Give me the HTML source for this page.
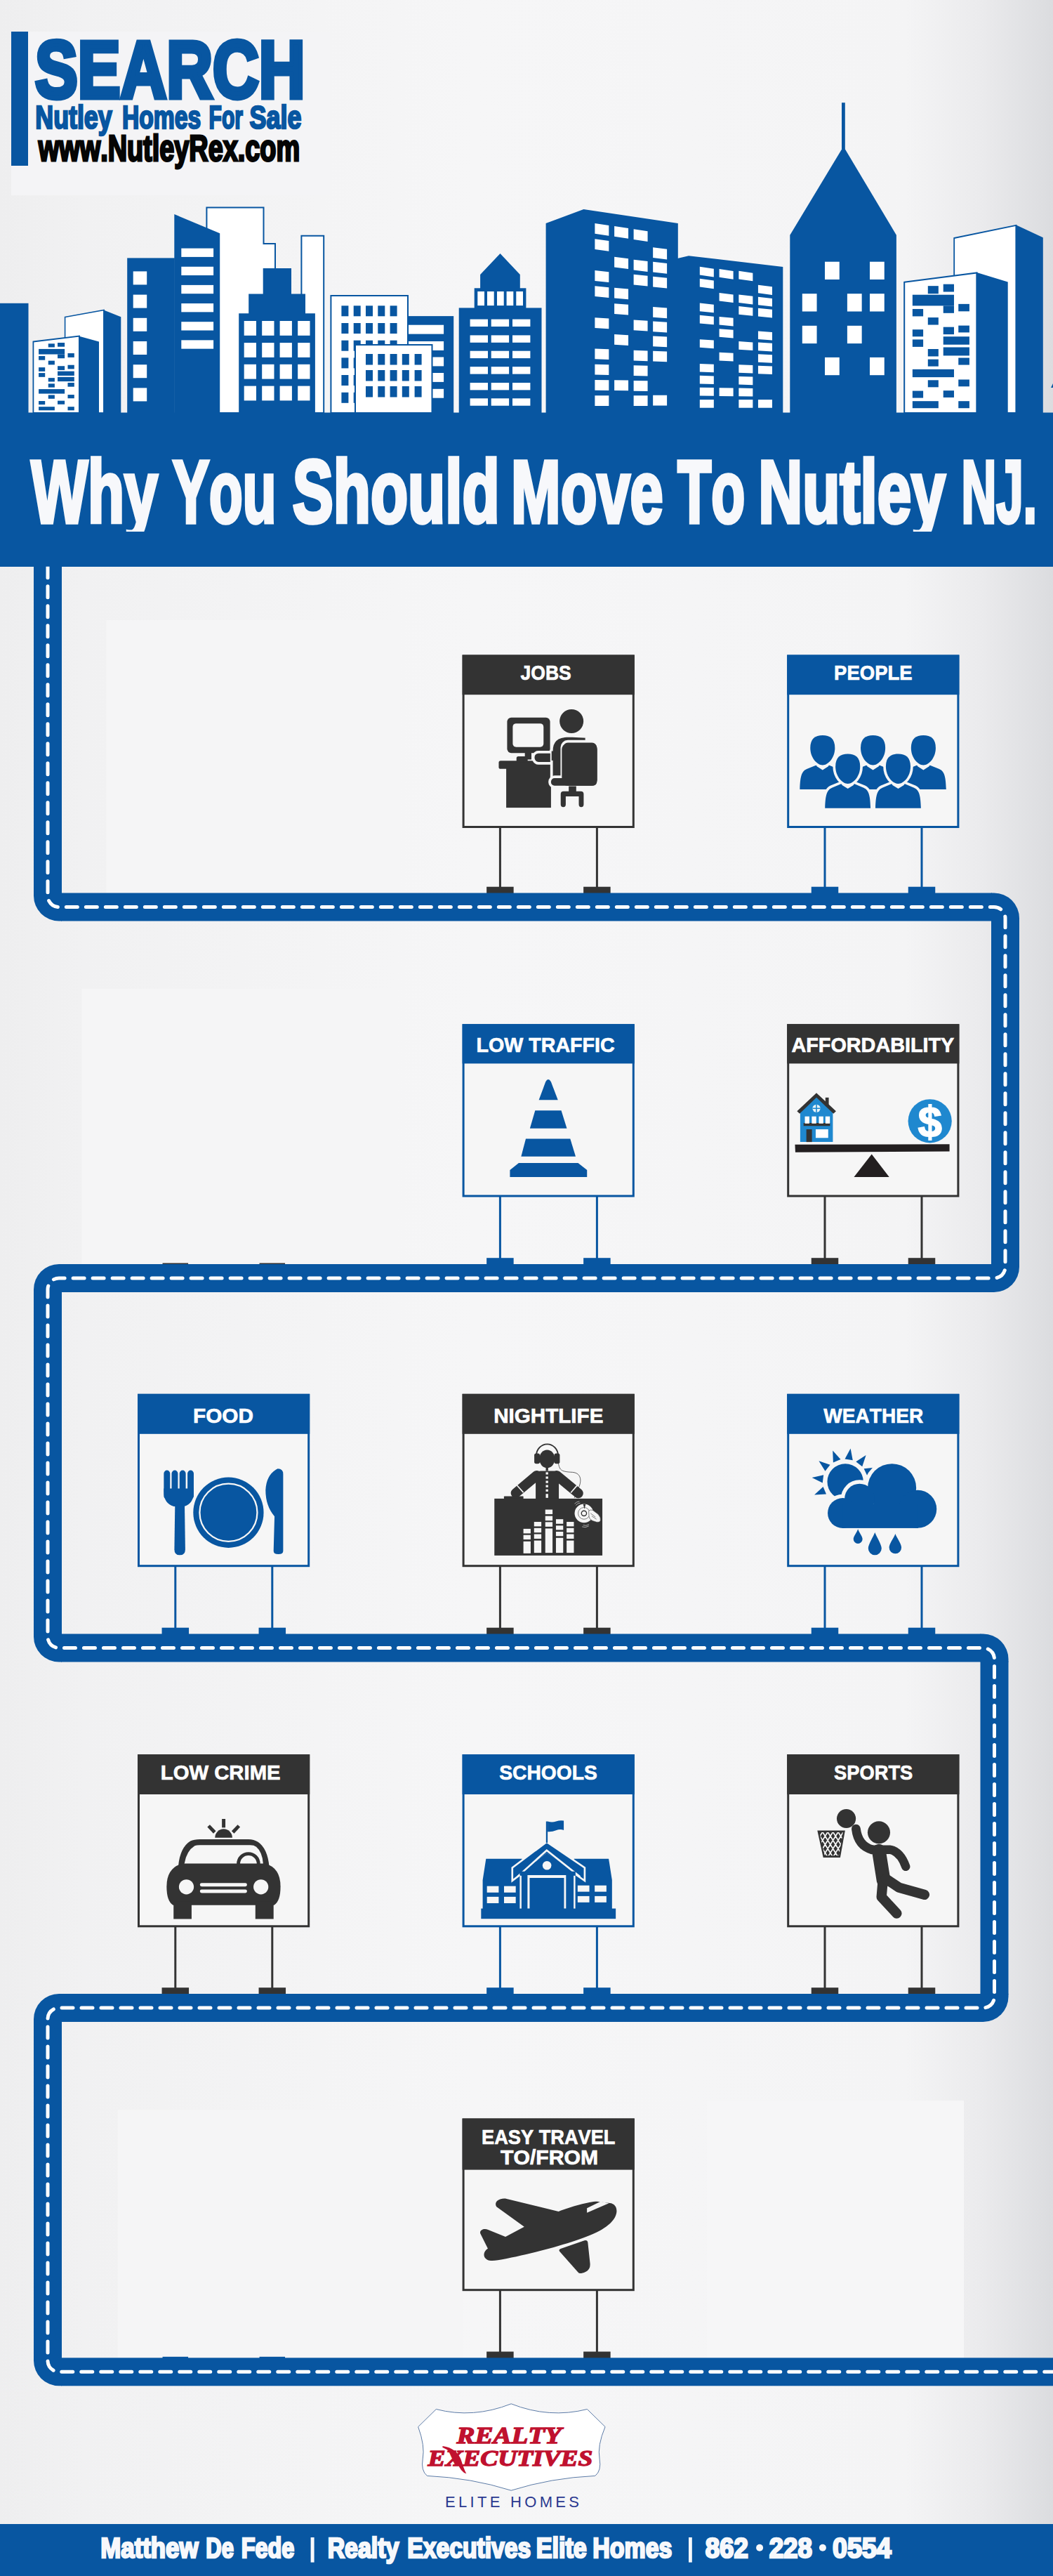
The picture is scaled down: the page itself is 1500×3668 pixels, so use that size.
<!DOCTYPE html><html><head><meta charset="utf-8"><style>html,body{margin:0;padding:0;background:#f4f4f5;overflow:hidden;}svg{display:block}</style></head><body><svg width="1500" height="3668" viewBox="0 0 1500 3668"><defs>
<linearGradient id="bg" x1="0" y1="0" x2="1" y2="0">
<stop offset="0" stop-color="#eeeeef"/>
<stop offset="0.08" stop-color="#f1f1f2"/>
<stop offset="0.45" stop-color="#f6f6f7"/>
<stop offset="0.86" stop-color="#f4f4f5"/>
<stop offset="0.93" stop-color="#ebebed"/>
<stop offset="1" stop-color="#dbdcdf"/>
</linearGradient>
</defs>
<rect x="0.00" y="0.00" width="1500.00" height="3668.00" fill="url(#bg)" />
<rect x="16.00" y="45.00" width="454.00" height="233.20" fill="#f4f4f6" />
<rect x="151.50" y="883.00" width="417.50" height="389.00" fill="#f5f5f6" />
<rect x="116.50" y="1408.00" width="447.00" height="392.00" fill="#f5f5f6" />
<rect x="167.70" y="3004.40" width="491.30" height="353.60" fill="#f5f5f6" />
<rect x="1007.00" y="2991.00" width="366.00" height="367.00" fill="#f6f6f7" />
<rect x="16.00" y="45.00" width="24.00" height="191.00" fill="#0856a1" />
<text x="49.98" y="138.50" font-family="Liberation Sans" font-weight="bold" font-style="normal" font-size="115.41" fill="#0856a1" textLength="384.46" lengthAdjust="spacingAndGlyphs" style="font-kerning:none" stroke="#0856a1" stroke-width="7" stroke-linejoin="miter" >SEARCH</text>
<text x="50.31" y="182.50" font-family="Liberation Sans" font-weight="bold" font-style="normal" font-size="46.95" fill="#0856a1" textLength="109.39" lengthAdjust="spacingAndGlyphs" style="font-kerning:none" stroke="#0856a1" stroke-width="2.6" stroke-linejoin="miter" >Nutley</text>
<text x="173.95" y="182.50" font-family="Liberation Sans" font-weight="bold" font-style="normal" font-size="46.95" fill="#0856a1" textLength="112.34" lengthAdjust="spacingAndGlyphs" style="font-kerning:none" stroke="#0856a1" stroke-width="2.6" stroke-linejoin="miter" >Homes</text>
<text x="297.59" y="182.50" font-family="Liberation Sans" font-weight="bold" font-style="normal" font-size="46.95" fill="#0856a1" textLength="48.47" lengthAdjust="spacingAndGlyphs" style="font-kerning:none" stroke="#0856a1" stroke-width="2.6" stroke-linejoin="miter" >For</text>
<text x="355.57" y="182.50" font-family="Liberation Sans" font-weight="bold" font-style="normal" font-size="46.95" fill="#0856a1" textLength="73.76" lengthAdjust="spacingAndGlyphs" style="font-kerning:none" stroke="#0856a1" stroke-width="2.6" stroke-linejoin="miter" >Sale</text>
<text x="54.81" y="228.80" font-family="Liberation Sans" font-weight="bold" font-style="normal" font-size="51.45" fill="#050505" textLength="372.34" lengthAdjust="spacingAndGlyphs" style="font-kerning:none" stroke="#050505" stroke-width="3" stroke-linejoin="miter" >www.NutleyRex.com</text>
<rect x="0.00" y="431.80" width="40.50" height="156.20" fill="#0856a1" />
<polygon points="92.60,451.50 148.10,441.50 148.10,588.00 92.60,588.00" fill="#ffffff" stroke="#0856a1" stroke-width="1.6" stroke-linejoin="miter"/>
<polygon points="147.20,441.30 172.30,451.30 172.30,588.00 147.20,588.00" fill="#0856a1" />
<polygon points="47.40,486.50 113.00,478.60 113.00,588.00 47.40,588.00" fill="#ffffff" stroke="#0856a1" stroke-width="1.8" stroke-linejoin="miter"/>
<polygon points="112.00,478.50 141.00,486.50 141.00,588.00 112.00,588.00" fill="#0856a1" />
<g transform="translate(0,420) scale(0.189934)" ><rect x="362.00" y="365.00" width="48.00" height="27.00" fill="#0856a1" /><rect x="432.00" y="358.00" width="53.00" height="30.00" fill="#0856a1" /><rect x="290.00" y="405.00" width="195.00" height="40.00" fill="#0856a1" /><rect x="290.00" y="458.00" width="48.00" height="30.00" fill="#0856a1" /><rect x="432.00" y="445.00" width="53.00" height="30.00" fill="#0856a1" /><rect x="508.00" y="437.00" width="49.00" height="31.00" fill="#0856a1" /><rect x="362.00" y="493.00" width="48.00" height="30.00" fill="#0856a1" /><rect x="290.00" y="543.00" width="48.00" height="30.00" fill="#0856a1" /><rect x="432.00" y="533.00" width="53.00" height="30.00" fill="#0856a1" /><rect x="508.00" y="525.00" width="49.00" height="30.00" fill="#0856a1" /><rect x="290.00" y="585.00" width="48.00" height="30.00" fill="#0856a1" /><rect x="432.00" y="572.00" width="125.00" height="33.00" fill="#0856a1" /><rect x="362.00" y="622.00" width="48.00" height="28.00" fill="#0856a1" /><rect x="432.00" y="615.00" width="125.00" height="33.00" fill="#0856a1" /><rect x="362.00" y="665.00" width="48.00" height="28.00" fill="#0856a1" /><rect x="508.00" y="658.00" width="49.00" height="30.00" fill="#0856a1" /><rect x="290.00" y="706.00" width="195.00" height="34.00" fill="#0856a1" /><rect x="362.00" y="750.00" width="48.00" height="28.00" fill="#0856a1" /><rect x="508.00" y="748.00" width="49.00" height="27.00" fill="#0856a1" /><rect x="290.00" y="795.00" width="48.00" height="27.00" fill="#0856a1" /><rect x="432.00" y="793.00" width="53.00" height="27.00" fill="#0856a1" /><rect x="290.00" y="838.00" width="120.00" height="27.00" fill="#0856a1" /><rect x="508.00" y="838.00" width="49.00" height="27.00" fill="#0856a1" /></g>
<rect x="181.20" y="367.40" width="67.60" height="220.60" fill="#0856a1" />
<rect x="189.70" y="386.40" width="19.50" height="19.00" fill="#ffffff" />
<rect x="189.70" y="419.60" width="19.50" height="19.00" fill="#ffffff" />
<rect x="189.70" y="452.80" width="19.50" height="19.00" fill="#ffffff" />
<rect x="189.70" y="486.00" width="19.50" height="19.00" fill="#ffffff" />
<rect x="189.70" y="519.20" width="19.50" height="19.00" fill="#ffffff" />
<rect x="189.70" y="552.40" width="19.50" height="19.00" fill="#ffffff" />
<polygon points="294.40,295.50 375.50,295.50 375.50,347.00 392.00,347.00 392.00,588.00 294.40,588.00" fill="#ffffff" stroke="#0856a1" stroke-width="2" stroke-linejoin="miter"/>
<polygon points="248.30,305.00 313.20,332.20 313.20,588.00 248.30,588.00" fill="#0856a1" />
<rect x="258.30" y="353.60" width="45.80" height="12.30" fill="#ffffff" />
<rect x="258.30" y="379.75" width="45.80" height="12.30" fill="#ffffff" />
<rect x="258.30" y="405.90" width="45.80" height="12.30" fill="#ffffff" />
<rect x="258.30" y="432.05" width="45.80" height="12.30" fill="#ffffff" />
<rect x="258.30" y="458.20" width="45.80" height="12.30" fill="#ffffff" />
<rect x="258.30" y="484.35" width="45.80" height="12.30" fill="#ffffff" />
<polygon points="429.40,335.80 461.20,335.80 461.20,588.00 429.40,588.00" fill="#ffffff" stroke="#0856a1" stroke-width="2" stroke-linejoin="miter"/>
<polygon points="374.70,382.10 415.00,382.10 415.00,418.40 435.00,418.40 435.00,446.20 448.90,446.20 448.90,588.00 340.20,588.00 340.20,446.20 354.20,446.20 354.20,418.40 374.70,418.40" fill="#0856a1" />
<rect x="347.70" y="457.00" width="17.30" height="20.80" fill="#ffffff" />
<rect x="373.20" y="457.00" width="17.30" height="20.80" fill="#ffffff" />
<rect x="398.60" y="457.00" width="17.30" height="20.80" fill="#ffffff" />
<rect x="424.20" y="457.00" width="17.30" height="20.80" fill="#ffffff" />
<rect x="347.70" y="488.10" width="17.30" height="20.80" fill="#ffffff" />
<rect x="373.20" y="488.10" width="17.30" height="20.80" fill="#ffffff" />
<rect x="398.60" y="488.10" width="17.30" height="20.80" fill="#ffffff" />
<rect x="424.20" y="488.10" width="17.30" height="20.80" fill="#ffffff" />
<rect x="347.70" y="518.80" width="17.30" height="20.80" fill="#ffffff" />
<rect x="373.20" y="518.80" width="17.30" height="20.80" fill="#ffffff" />
<rect x="398.60" y="518.80" width="17.30" height="20.80" fill="#ffffff" />
<rect x="424.20" y="518.80" width="17.30" height="20.80" fill="#ffffff" />
<rect x="347.70" y="549.60" width="17.30" height="20.80" fill="#ffffff" />
<rect x="373.20" y="549.60" width="17.30" height="20.80" fill="#ffffff" />
<rect x="398.60" y="549.60" width="17.30" height="20.80" fill="#ffffff" />
<rect x="424.20" y="549.60" width="17.30" height="20.80" fill="#ffffff" />
<rect x="582.00" y="450.10" width="64.20" height="137.90" fill="#0856a1" />
<rect x="582.00" y="462.70" width="50.10" height="12.90" fill="#ffffff" />
<rect x="582.00" y="486.00" width="50.10" height="12.90" fill="#ffffff" />
<rect x="582.00" y="508.50" width="50.10" height="12.90" fill="#ffffff" />
<rect x="582.00" y="531.00" width="50.10" height="12.90" fill="#ffffff" />
<rect x="582.00" y="553.80" width="50.10" height="12.90" fill="#ffffff" />
<polygon points="471.40,421.00 581.00,421.00 581.00,588.00 471.40,588.00" fill="#ffffff" stroke="#0856a1" stroke-width="2" stroke-linejoin="miter"/>
<rect x="486.40" y="435.30" width="10.00" height="15.00" fill="#0856a1" />
<rect x="503.70" y="435.30" width="10.00" height="15.00" fill="#0856a1" />
<rect x="521.00" y="435.30" width="10.00" height="15.00" fill="#0856a1" />
<rect x="538.30" y="435.30" width="10.00" height="15.00" fill="#0856a1" />
<rect x="555.60" y="435.30" width="10.00" height="15.00" fill="#0856a1" />
<rect x="486.40" y="460.00" width="10.00" height="15.00" fill="#0856a1" />
<rect x="503.70" y="460.00" width="10.00" height="15.00" fill="#0856a1" />
<rect x="521.00" y="460.00" width="10.00" height="15.00" fill="#0856a1" />
<rect x="538.30" y="460.00" width="10.00" height="15.00" fill="#0856a1" />
<rect x="555.60" y="460.00" width="10.00" height="15.00" fill="#0856a1" />
<rect x="486.40" y="484.70" width="10.00" height="15.00" fill="#0856a1" />
<rect x="503.70" y="484.70" width="10.00" height="15.00" fill="#0856a1" />
<rect x="521.00" y="484.70" width="10.00" height="15.00" fill="#0856a1" />
<rect x="538.30" y="484.70" width="10.00" height="15.00" fill="#0856a1" />
<rect x="555.60" y="484.70" width="10.00" height="15.00" fill="#0856a1" />
<rect x="486.40" y="509.40" width="10.00" height="15.00" fill="#0856a1" />
<rect x="503.70" y="509.40" width="10.00" height="15.00" fill="#0856a1" />
<rect x="521.00" y="509.40" width="10.00" height="15.00" fill="#0856a1" />
<rect x="538.30" y="509.40" width="10.00" height="15.00" fill="#0856a1" />
<rect x="555.60" y="509.40" width="10.00" height="15.00" fill="#0856a1" />
<rect x="486.40" y="534.00" width="10.00" height="15.00" fill="#0856a1" />
<rect x="503.70" y="534.00" width="10.00" height="15.00" fill="#0856a1" />
<rect x="521.00" y="534.00" width="10.00" height="15.00" fill="#0856a1" />
<rect x="538.30" y="534.00" width="10.00" height="15.00" fill="#0856a1" />
<rect x="555.60" y="534.00" width="10.00" height="15.00" fill="#0856a1" />
<rect x="486.40" y="558.80" width="10.00" height="15.00" fill="#0856a1" />
<rect x="503.70" y="558.80" width="10.00" height="15.00" fill="#0856a1" />
<rect x="521.00" y="558.80" width="10.00" height="15.00" fill="#0856a1" />
<rect x="538.30" y="558.80" width="10.00" height="15.00" fill="#0856a1" />
<rect x="555.60" y="558.80" width="10.00" height="15.00" fill="#0856a1" />
<polygon points="506.00,490.90 615.50,490.90 615.50,588.00 506.00,588.00" fill="#ffffff" stroke="#0856a1" stroke-width="2" stroke-linejoin="miter"/>
<rect x="521.00" y="504.00" width="10.00" height="15.50" fill="#0856a1" />
<rect x="538.30" y="504.00" width="10.00" height="15.50" fill="#0856a1" />
<rect x="555.60" y="504.00" width="10.00" height="15.50" fill="#0856a1" />
<rect x="572.80" y="504.00" width="10.00" height="15.50" fill="#0856a1" />
<rect x="590.60" y="504.00" width="10.00" height="15.50" fill="#0856a1" />
<rect x="521.00" y="527.00" width="10.00" height="15.50" fill="#0856a1" />
<rect x="538.30" y="527.00" width="10.00" height="15.50" fill="#0856a1" />
<rect x="555.60" y="527.00" width="10.00" height="15.50" fill="#0856a1" />
<rect x="572.80" y="527.00" width="10.00" height="15.50" fill="#0856a1" />
<rect x="590.60" y="527.00" width="10.00" height="15.50" fill="#0856a1" />
<rect x="521.00" y="550.00" width="10.00" height="15.50" fill="#0856a1" />
<rect x="538.30" y="550.00" width="10.00" height="15.50" fill="#0856a1" />
<rect x="555.60" y="550.00" width="10.00" height="15.50" fill="#0856a1" />
<rect x="572.80" y="550.00" width="10.00" height="15.50" fill="#0856a1" />
<rect x="590.60" y="550.00" width="10.00" height="15.50" fill="#0856a1" />
<rect x="653.70" y="438.40" width="117.80" height="149.60" fill="#0856a1" />
<rect x="675.70" y="410.30" width="73.70" height="28.70" fill="#0856a1" />
<polygon points="684.10,411.00 684.10,391.00 712.50,361.00 740.80,391.00 740.80,411.00" fill="#0856a1" />
<rect x="680.30" y="415.00" width="9.70" height="20.10" fill="#ffffff" />
<rect x="694.00" y="415.00" width="9.70" height="20.10" fill="#ffffff" />
<rect x="708.00" y="415.00" width="9.70" height="20.10" fill="#ffffff" />
<rect x="721.60" y="415.00" width="9.70" height="20.10" fill="#ffffff" />
<rect x="735.30" y="415.00" width="9.70" height="20.10" fill="#ffffff" />
<rect x="669.60" y="454.60" width="25.40" height="10.40" fill="#ffffff" />
<rect x="699.70" y="454.60" width="25.40" height="10.40" fill="#ffffff" />
<rect x="730.00" y="454.60" width="25.40" height="10.40" fill="#ffffff" />
<rect x="669.60" y="477.40" width="25.40" height="10.40" fill="#ffffff" />
<rect x="699.70" y="477.40" width="25.40" height="10.40" fill="#ffffff" />
<rect x="730.00" y="477.40" width="25.40" height="10.40" fill="#ffffff" />
<rect x="669.60" y="499.70" width="25.40" height="10.40" fill="#ffffff" />
<rect x="699.70" y="499.70" width="25.40" height="10.40" fill="#ffffff" />
<rect x="730.00" y="499.70" width="25.40" height="10.40" fill="#ffffff" />
<rect x="669.60" y="522.20" width="25.40" height="10.40" fill="#ffffff" />
<rect x="699.70" y="522.20" width="25.40" height="10.40" fill="#ffffff" />
<rect x="730.00" y="522.20" width="25.40" height="10.40" fill="#ffffff" />
<rect x="669.60" y="545.00" width="25.40" height="10.40" fill="#ffffff" />
<rect x="699.70" y="545.00" width="25.40" height="10.40" fill="#ffffff" />
<rect x="730.00" y="545.00" width="25.40" height="10.40" fill="#ffffff" />
<rect x="669.60" y="567.30" width="25.40" height="10.40" fill="#ffffff" />
<rect x="699.70" y="567.30" width="25.40" height="10.40" fill="#ffffff" />
<rect x="730.00" y="567.30" width="25.40" height="10.40" fill="#ffffff" />
<polygon points="777.60,588.00 777.60,317.90 831.40,298.00 965.80,317.90 965.80,588.00" fill="#0856a1" />
<g transform="translate(770,285) scale(0.199442)" ><polygon points="388.00,165.00 488.00,180.00 488.00,254.00 388.00,239.00" fill="#ffffff" /><polygon points="388.00,277.00 488.00,290.63 488.00,364.63 388.00,351.00" fill="#ffffff" /><polygon points="388.00,502.00 488.00,512.89 488.00,586.89 388.00,576.00" fill="#ffffff" /><polygon points="388.00,613.00 488.00,622.54 488.00,696.54 388.00,687.00" fill="#ffffff" /><polygon points="388.00,838.00 488.00,844.79 488.00,918.79 388.00,912.00" fill="#ffffff" /><polygon points="388.00,1060.00 488.00,1064.09 488.00,1138.09 388.00,1134.00" fill="#ffffff" /><polygon points="388.00,1172.00 488.00,1174.72 488.00,1248.72 388.00,1246.00" fill="#ffffff" /><polygon points="388.00,1283.00 488.00,1284.37 488.00,1358.37 388.00,1357.00" fill="#ffffff" /><polygon points="388.00,1395.00 488.00,1395.00 488.00,1469.00 388.00,1469.00" fill="#ffffff" /><polygon points="527.00,186.00 627.00,200.74 627.00,274.74 527.00,260.00" fill="#ffffff" /><polygon points="527.00,405.00 627.00,417.07 627.00,491.07 527.00,479.00" fill="#ffffff" /><polygon points="527.00,625.00 627.00,634.39 627.00,708.39 527.00,699.00" fill="#ffffff" /><polygon points="527.00,738.00 627.00,746.01 627.00,820.01 527.00,812.00" fill="#ffffff" /><polygon points="527.00,958.00 627.00,963.33 627.00,1037.33 527.00,1032.00" fill="#ffffff" /><polygon points="527.00,1285.00 627.00,1286.34 627.00,1360.34 527.00,1359.00" fill="#ffffff" /><polygon points="665.00,207.00 765.00,221.49 765.00,295.49 665.00,281.00" fill="#ffffff" /><polygon points="665.00,425.00 765.00,436.83 765.00,510.83 665.00,499.00" fill="#ffffff" /><polygon points="665.00,530.00 765.00,540.55 765.00,614.55 665.00,604.00" fill="#ffffff" /><polygon points="665.00,855.00 765.00,861.59 765.00,935.59 665.00,929.00" fill="#ffffff" /><polygon points="665.00,1072.00 765.00,1075.94 765.00,1149.94 665.00,1146.00" fill="#ffffff" /><polygon points="665.00,1180.00 765.00,1182.62 765.00,1256.62 665.00,1254.00" fill="#ffffff" /><polygon points="665.00,1288.00 765.00,1289.30 765.00,1363.30 665.00,1362.00" fill="#ffffff" /><polygon points="665.00,1395.00 765.00,1395.00 765.00,1469.00 665.00,1469.00" fill="#ffffff" /><polygon points="803.00,337.00 903.00,349.90 903.00,423.90 803.00,411.00" fill="#ffffff" /><polygon points="803.00,440.00 903.00,451.65 903.00,525.65 803.00,514.00" fill="#ffffff" /><polygon points="803.00,545.00 903.00,555.37 903.00,629.37 803.00,619.00" fill="#ffffff" /><polygon points="803.00,762.00 903.00,769.72 903.00,843.72 803.00,836.00" fill="#ffffff" /><polygon points="803.00,865.00 903.00,871.46 903.00,945.46 803.00,939.00" fill="#ffffff" /><polygon points="803.00,970.00 903.00,975.18 903.00,1049.18 803.00,1044.00" fill="#ffffff" /><polygon points="803.00,1077.00 903.00,1080.88 903.00,1154.88 803.00,1151.00" fill="#ffffff" /><polygon points="803.00,1393.00 903.00,1393.02 903.00,1467.02 803.00,1467.00" fill="#ffffff" /></g>
<polygon points="965.00,588.00 965.00,367.90 981.00,364.20 1115.30,379.90 1115.30,588.00" fill="#0856a1" />
<g transform="translate(960,350) scale(0.161447)" ><polygon points="228.00,185.00 352.00,203.60 352.00,275.60 228.00,257.00" fill="#ffffff" /><polygon points="228.00,290.00 352.00,306.93 352.00,378.93 228.00,362.00" fill="#ffffff" /><polygon points="228.00,505.00 352.00,518.52 352.00,590.52 228.00,577.00" fill="#ffffff" /><polygon points="228.00,612.00 352.00,623.82 352.00,695.82 228.00,684.00" fill="#ffffff" /><polygon points="228.00,825.00 352.00,833.44 352.00,905.44 228.00,897.00" fill="#ffffff" /><polygon points="228.00,1040.00 352.00,1045.03 352.00,1117.03 228.00,1112.00" fill="#ffffff" /><polygon points="228.00,1145.00 352.00,1148.36 352.00,1220.36 228.00,1217.00" fill="#ffffff" /><polygon points="228.00,1250.00 352.00,1251.70 352.00,1323.70 228.00,1322.00" fill="#ffffff" /><polygon points="228.00,1357.00 352.00,1357.00 352.00,1429.00 228.00,1429.00" fill="#ffffff" /><polygon points="400.00,205.00 524.00,223.28 524.00,295.28 400.00,277.00" fill="#ffffff" /><polygon points="400.00,415.00 524.00,429.95 524.00,501.95 400.00,487.00" fill="#ffffff" /><polygon points="400.00,625.00 524.00,636.62 524.00,708.62 400.00,697.00" fill="#ffffff" /><polygon points="400.00,732.00 524.00,741.92 524.00,813.92 400.00,804.00" fill="#ffffff" /><polygon points="400.00,940.00 524.00,946.62 524.00,1018.62 400.00,1012.00" fill="#ffffff" /><polygon points="400.00,1253.00 524.00,1254.65 524.00,1326.65 400.00,1325.00" fill="#ffffff" /><polygon points="572.00,222.00 696.00,240.01 696.00,312.01 572.00,294.00" fill="#ffffff" /><polygon points="572.00,430.00 696.00,444.71 696.00,516.71 572.00,502.00" fill="#ffffff" /><polygon points="572.00,533.00 696.00,546.08 696.00,618.08 572.00,605.00" fill="#ffffff" /><polygon points="572.00,843.00 696.00,851.16 696.00,923.16 572.00,915.00" fill="#ffffff" /><polygon points="572.00,1048.00 696.00,1052.90 696.00,1124.90 572.00,1120.00" fill="#ffffff" /><polygon points="572.00,1152.00 696.00,1155.25 696.00,1227.25 572.00,1224.00" fill="#ffffff" /><polygon points="572.00,1255.00 696.00,1256.62 696.00,1328.62 572.00,1327.00" fill="#ffffff" /><polygon points="572.00,1357.00 696.00,1357.00 696.00,1429.00 572.00,1429.00" fill="#ffffff" /><polygon points="743.00,345.00 867.00,361.06 867.00,433.06 743.00,417.00" fill="#ffffff" /><polygon points="743.00,450.00 867.00,464.39 867.00,536.39 743.00,522.00" fill="#ffffff" /><polygon points="743.00,550.00 867.00,562.81 867.00,634.81 743.00,622.00" fill="#ffffff" /><polygon points="743.00,752.00 867.00,761.60 867.00,833.60 743.00,824.00" fill="#ffffff" /><polygon points="743.00,852.00 867.00,860.01 867.00,932.01 743.00,924.00" fill="#ffffff" /><polygon points="743.00,955.00 867.00,961.38 867.00,1033.38 743.00,1027.00" fill="#ffffff" /><polygon points="743.00,1057.00 867.00,1061.76 867.00,1133.76 743.00,1129.00" fill="#ffffff" /><polygon points="743.00,1357.00 867.00,1357.00 867.00,1429.00 743.00,1429.00" fill="#ffffff" /></g>
<rect x="1199.00" y="146.20" width="4.80" height="65.80" fill="#0856a1" />
<polygon points="1125.30,588.00 1125.30,334.80 1201.50,208.50 1276.90,334.80 1276.90,588.00" fill="#0856a1" />
<rect x="1175.00" y="372.70" width="20.75" height="25.30" fill="#ffffff" />
<rect x="1239.00" y="372.70" width="20.75" height="25.30" fill="#ffffff" />
<rect x="1142.80" y="418.20" width="20.75" height="25.30" fill="#ffffff" />
<rect x="1206.90" y="418.20" width="20.75" height="25.30" fill="#ffffff" />
<rect x="1239.00" y="418.20" width="20.75" height="25.30" fill="#ffffff" />
<rect x="1142.80" y="463.80" width="20.75" height="25.30" fill="#ffffff" />
<rect x="1206.90" y="463.80" width="20.75" height="25.30" fill="#ffffff" />
<rect x="1175.00" y="508.90" width="20.75" height="25.30" fill="#ffffff" />
<rect x="1239.00" y="508.90" width="20.75" height="25.30" fill="#ffffff" />
<polygon points="1359.20,339.00 1447.50,320.80 1447.50,588.00 1359.20,588.00" fill="#ffffff" stroke="#0856a1" stroke-width="1.8" stroke-linejoin="miter"/>
<polygon points="1446.70,320.00 1485.80,338.20 1485.80,588.00 1446.70,588.00" fill="#0856a1" />
<polygon points="1288.20,401.80 1391.50,388.50 1391.50,588.00 1288.20,588.00" fill="#ffffff" stroke="#0856a1" stroke-width="2" stroke-linejoin="miter"/>
<polygon points="1390.70,387.70 1435.70,401.50 1435.70,588.00 1390.70,588.00" fill="#0856a1" />
<g transform="translate(1280,310) scale(0.208943)" ><rect x="200.00" y="465.00" width="72.00" height="53.00" fill="#0856a1" /><rect x="305.00" y="453.00" width="73.00" height="52.00" fill="#0856a1" /><rect x="95.00" y="525.00" width="283.00" height="75.00" fill="#0856a1" /><rect x="95.00" y="622.00" width="73.00" height="50.00" fill="#0856a1" /><rect x="305.00" y="600.00" width="73.00" height="50.00" fill="#0856a1" /><rect x="408.00" y="588.00" width="75.00" height="50.00" fill="#0856a1" /><rect x="200.00" y="680.00" width="72.00" height="50.00" fill="#0856a1" /><rect x="95.00" y="762.00" width="73.00" height="48.00" fill="#0856a1" /><rect x="305.00" y="745.00" width="73.00" height="50.00" fill="#0856a1" /><rect x="408.00" y="735.00" width="75.00" height="47.00" fill="#0856a1" /><rect x="95.00" y="830.00" width="73.00" height="50.00" fill="#0856a1" /><rect x="305.00" y="810.00" width="178.00" height="55.00" fill="#0856a1" /><rect x="200.00" y="895.00" width="72.00" height="50.00" fill="#0856a1" /><rect x="305.00" y="883.00" width="178.00" height="57.00" fill="#0856a1" /><rect x="200.00" y="965.00" width="72.00" height="48.00" fill="#0856a1" /><rect x="408.00" y="955.00" width="75.00" height="48.00" fill="#0856a1" /><rect x="95.00" y="1033.00" width="283.00" height="54.00" fill="#0856a1" /><rect x="200.00" y="1107.00" width="72.00" height="48.00" fill="#0856a1" /><rect x="408.00" y="1103.00" width="75.00" height="47.00" fill="#0856a1" /><rect x="95.00" y="1180.00" width="73.00" height="48.00" fill="#0856a1" /><rect x="305.00" y="1178.00" width="73.00" height="47.00" fill="#0856a1" /><rect x="95.00" y="1250.00" width="177.00" height="48.00" fill="#0856a1" /><rect x="408.00" y="1250.00" width="75.00" height="48.00" fill="#0856a1" /></g>
<polygon points="1497.00,552.00 1500.00,546.00 1500.00,552.00" fill="#0856a1" />
<rect x="0.00" y="587.50" width="1500.00" height="219.50" fill="#0856a1" />
<clipPath id="tclip"><rect x="0" y="600" width="1500" height="157"/></clipPath><g clip-path="url(#tclip)">
<text x="44.57" y="744.05" font-family="Liberation Sans" font-weight="bold" font-style="normal" font-size="126.60" fill="#f7f8fb" textLength="180.14" lengthAdjust="spacingAndGlyphs" style="font-kerning:none" stroke="#f7f8fb" stroke-width="5.5" stroke-linejoin="miter" >Why</text>
<text x="246.02" y="744.05" font-family="Liberation Sans" font-weight="bold" font-style="normal" font-size="126.60" fill="#f7f8fb" textLength="147.27" lengthAdjust="spacingAndGlyphs" style="font-kerning:none" stroke="#f7f8fb" stroke-width="5.5" stroke-linejoin="miter" >You</text>
<text x="416.84" y="744.05" font-family="Liberation Sans" font-weight="bold" font-style="normal" font-size="126.60" fill="#f7f8fb" textLength="294.74" lengthAdjust="spacingAndGlyphs" style="font-kerning:none" stroke="#f7f8fb" stroke-width="5.5" stroke-linejoin="miter" >Should</text>
<text x="728.08" y="744.05" font-family="Liberation Sans" font-weight="bold" font-style="normal" font-size="126.60" fill="#f7f8fb" textLength="216.56" lengthAdjust="spacingAndGlyphs" style="font-kerning:none" stroke="#f7f8fb" stroke-width="5.5" stroke-linejoin="miter" >Move</text>
<text x="965.37" y="744.05" font-family="Liberation Sans" font-weight="bold" font-style="normal" font-size="126.60" fill="#f7f8fb" textLength="95.85" lengthAdjust="spacingAndGlyphs" style="font-kerning:none" stroke="#f7f8fb" stroke-width="5.5" stroke-linejoin="miter" >To</text>
<text x="1080.32" y="744.05" font-family="Liberation Sans" font-weight="bold" font-style="normal" font-size="126.60" fill="#f7f8fb" textLength="266.40" lengthAdjust="spacingAndGlyphs" style="font-kerning:none" stroke="#f7f8fb" stroke-width="5.5" stroke-linejoin="miter" >Nutley</text>
<text x="1369.43" y="744.05" font-family="Liberation Sans" font-weight="bold" font-style="normal" font-size="126.60" fill="#f7f8fb" textLength="107.37" lengthAdjust="spacingAndGlyphs" style="font-kerning:none" stroke="#f7f8fb" stroke-width="5.5" stroke-linejoin="miter" >NJ.</text>
</g>
<rect x="710.90" y="1178.00" width="3.00" height="93.50" fill="#333333" /><rect x="693.15" y="1262.70" width="38.50" height="10.80" fill="#333333" /><rect x="848.90" y="1178.00" width="3.00" height="93.50" fill="#333333" /><rect x="831.15" y="1262.70" width="38.50" height="10.80" fill="#333333" />
<rect x="660.10" y="934.00" width="242.20" height="243.50" fill="#f6f6f6" stroke="#333333" stroke-width="3"/>
<rect x="658.60" y="932.50" width="245.20" height="56.70" fill="#333333" />
<text x="741.55" y="967.95" font-family="Liberation Sans" font-weight="bold" font-style="normal" font-size="30.38" fill="#ffffff" textLength="72.14" lengthAdjust="spacingAndGlyphs" style="font-kerning:none" stroke="#ffffff" stroke-width="0.7" stroke-linejoin="miter" >JOBS</text>
<rect x="1173.50" y="1178.00" width="3.00" height="93.50" fill="#0856a1" /><rect x="1155.75" y="1262.70" width="38.50" height="10.80" fill="#0856a1" /><rect x="1311.50" y="1178.00" width="3.00" height="93.50" fill="#0856a1" /><rect x="1293.75" y="1262.70" width="38.50" height="10.80" fill="#0856a1" />
<rect x="1122.70" y="934.00" width="242.20" height="243.50" fill="#f6f6f6" stroke="#0856a1" stroke-width="3"/>
<rect x="1121.20" y="932.50" width="245.20" height="56.70" fill="#0856a1" />
<text x="1188.11" y="967.95" font-family="Liberation Sans" font-weight="bold" font-style="normal" font-size="30.38" fill="#ffffff" textLength="111.51" lengthAdjust="spacingAndGlyphs" style="font-kerning:none" stroke="#ffffff" stroke-width="0.7" stroke-linejoin="miter" >PEOPLE</text>
<rect x="710.90" y="1703.50" width="3.00" height="96.50" fill="#0856a1" /><rect x="693.15" y="1791.20" width="38.50" height="10.80" fill="#0856a1" /><rect x="848.90" y="1703.50" width="3.00" height="96.50" fill="#0856a1" /><rect x="831.15" y="1791.20" width="38.50" height="10.80" fill="#0856a1" />
<rect x="660.10" y="1459.70" width="242.20" height="243.30" fill="#f6f6f6" stroke="#0856a1" stroke-width="3"/>
<rect x="658.60" y="1458.20" width="245.20" height="56.20" fill="#0856a1" />
<text x="678.54" y="1497.95" font-family="Liberation Sans" font-weight="bold" font-style="normal" font-size="30.38" fill="#ffffff" textLength="197.10" lengthAdjust="spacingAndGlyphs" style="font-kerning:none" stroke="#ffffff" stroke-width="0.7" stroke-linejoin="miter" >LOW TRAFFIC</text>
<rect x="1173.50" y="1703.50" width="3.00" height="96.50" fill="#333333" /><rect x="1155.75" y="1791.20" width="38.50" height="10.80" fill="#333333" /><rect x="1311.50" y="1703.50" width="3.00" height="96.50" fill="#333333" /><rect x="1293.75" y="1791.20" width="38.50" height="10.80" fill="#333333" />
<rect x="1122.70" y="1459.70" width="242.20" height="243.30" fill="#f6f6f6" stroke="#333333" stroke-width="3"/>
<rect x="1121.20" y="1458.20" width="245.20" height="56.20" fill="#333333" />
<text x="1127.53" y="1497.95" font-family="Liberation Sans" font-weight="bold" font-style="normal" font-size="30.38" fill="#ffffff" textLength="231.78" lengthAdjust="spacingAndGlyphs" style="font-kerning:none" stroke="#ffffff" stroke-width="0.7" stroke-linejoin="miter" >AFFORDABILITY</text>
<rect x="248.30" y="2230.20" width="3.00" height="96.30" fill="#0856a1" /><rect x="230.55" y="2317.70" width="38.50" height="10.80" fill="#0856a1" /><rect x="386.30" y="2230.20" width="3.00" height="96.30" fill="#0856a1" /><rect x="368.55" y="2317.70" width="38.50" height="10.80" fill="#0856a1" />
<rect x="197.50" y="1986.30" width="242.20" height="243.40" fill="#f6f6f6" stroke="#0856a1" stroke-width="3"/>
<rect x="196.00" y="1984.80" width="245.20" height="57.00" fill="#0856a1" />
<text x="275.06" y="2025.85" font-family="Liberation Sans" font-weight="bold" font-style="normal" font-size="30.38" fill="#ffffff" textLength="85.84" lengthAdjust="spacingAndGlyphs" style="font-kerning:none" stroke="#ffffff" stroke-width="0.7" stroke-linejoin="miter" >FOOD</text>
<rect x="710.90" y="2230.20" width="3.00" height="96.30" fill="#333333" /><rect x="693.15" y="2317.70" width="38.50" height="10.80" fill="#333333" /><rect x="848.90" y="2230.20" width="3.00" height="96.30" fill="#333333" /><rect x="831.15" y="2317.70" width="38.50" height="10.80" fill="#333333" />
<rect x="660.10" y="1986.30" width="242.20" height="243.40" fill="#f6f6f6" stroke="#333333" stroke-width="3"/>
<rect x="658.60" y="1984.80" width="245.20" height="57.00" fill="#333333" />
<text x="703.17" y="2025.85" font-family="Liberation Sans" font-weight="bold" font-style="normal" font-size="30.38" fill="#ffffff" textLength="156.24" lengthAdjust="spacingAndGlyphs" style="font-kerning:none" stroke="#ffffff" stroke-width="0.7" stroke-linejoin="miter" >NIGHTLIFE</text>
<rect x="1173.50" y="2230.20" width="3.00" height="96.30" fill="#0856a1" /><rect x="1155.75" y="2317.70" width="38.50" height="10.80" fill="#0856a1" /><rect x="1311.50" y="2230.20" width="3.00" height="96.30" fill="#0856a1" /><rect x="1293.75" y="2317.70" width="38.50" height="10.80" fill="#0856a1" />
<rect x="1122.70" y="1986.30" width="242.20" height="243.40" fill="#f6f6f6" stroke="#0856a1" stroke-width="3"/>
<rect x="1121.20" y="1984.80" width="245.20" height="57.00" fill="#0856a1" />
<text x="1173.32" y="2025.85" font-family="Liberation Sans" font-weight="bold" font-style="normal" font-size="30.38" fill="#ffffff" textLength="141.90" lengthAdjust="spacingAndGlyphs" style="font-kerning:none" stroke="#ffffff" stroke-width="0.7" stroke-linejoin="miter" >WEATHER</text>
<rect x="248.30" y="2743.30" width="3.00" height="95.70" fill="#333333" /><rect x="230.55" y="2830.20" width="38.50" height="10.80" fill="#333333" /><rect x="386.30" y="2743.30" width="3.00" height="95.70" fill="#333333" /><rect x="368.55" y="2830.20" width="38.50" height="10.80" fill="#333333" />
<rect x="197.50" y="2499.60" width="242.20" height="243.20" fill="#f6f6f6" stroke="#333333" stroke-width="3"/>
<rect x="196.00" y="2498.10" width="245.20" height="56.90" fill="#333333" />
<text x="228.79" y="2534.05" font-family="Liberation Sans" font-weight="bold" font-style="normal" font-size="30.38" fill="#ffffff" textLength="170.80" lengthAdjust="spacingAndGlyphs" style="font-kerning:none" stroke="#ffffff" stroke-width="0.7" stroke-linejoin="miter" >LOW CRIME</text>
<rect x="710.90" y="2743.30" width="3.00" height="95.70" fill="#0856a1" /><rect x="693.15" y="2830.20" width="38.50" height="10.80" fill="#0856a1" /><rect x="848.90" y="2743.30" width="3.00" height="95.70" fill="#0856a1" /><rect x="831.15" y="2830.20" width="38.50" height="10.80" fill="#0856a1" />
<rect x="660.10" y="2499.60" width="242.20" height="243.20" fill="#f6f6f6" stroke="#0856a1" stroke-width="3"/>
<rect x="658.60" y="2498.10" width="245.20" height="56.90" fill="#0856a1" />
<text x="711.24" y="2534.05" font-family="Liberation Sans" font-weight="bold" font-style="normal" font-size="30.38" fill="#ffffff" textLength="139.51" lengthAdjust="spacingAndGlyphs" style="font-kerning:none" stroke="#ffffff" stroke-width="0.7" stroke-linejoin="miter" >SCHOOLS</text>
<rect x="1173.50" y="2743.30" width="3.00" height="95.70" fill="#333333" /><rect x="1155.75" y="2830.20" width="38.50" height="10.80" fill="#333333" /><rect x="1311.50" y="2743.30" width="3.00" height="95.70" fill="#333333" /><rect x="1293.75" y="2830.20" width="38.50" height="10.80" fill="#333333" />
<rect x="1122.70" y="2499.60" width="242.20" height="243.20" fill="#f6f6f6" stroke="#333333" stroke-width="3"/>
<rect x="1121.20" y="2498.10" width="245.20" height="56.90" fill="#333333" />
<text x="1188.06" y="2534.05" font-family="Liberation Sans" font-weight="bold" font-style="normal" font-size="30.38" fill="#ffffff" textLength="112.25" lengthAdjust="spacingAndGlyphs" style="font-kerning:none" stroke="#ffffff" stroke-width="0.7" stroke-linejoin="miter" >SPORTS</text>
<rect x="710.90" y="3261.20" width="3.00" height="96.10" fill="#333333" /><rect x="693.15" y="3348.50" width="38.50" height="10.80" fill="#333333" /><rect x="848.90" y="3261.20" width="3.00" height="96.10" fill="#333333" /><rect x="831.15" y="3348.50" width="38.50" height="10.80" fill="#333333" />
<rect x="660.10" y="3018.00" width="242.20" height="242.70" fill="#f6f6f6" stroke="#333333" stroke-width="3"/>
<rect x="658.60" y="3016.50" width="245.20" height="73.10" fill="#333333" />
<text x="686.03" y="3052.65" font-family="Liberation Sans" font-weight="bold" font-style="normal" font-size="29.51" fill="#ffffff" textLength="190.46" lengthAdjust="spacingAndGlyphs" style="font-kerning:none" stroke="#ffffff" stroke-width="0.7" stroke-linejoin="miter" >EASY TRAVEL</text>
<text x="713.01" y="3082.35" font-family="Liberation Sans" font-weight="bold" font-style="normal" font-size="29.51" fill="#ffffff" textLength="139.16" lengthAdjust="spacingAndGlyphs" style="font-kerning:none" stroke="#ffffff" stroke-width="0.7" stroke-linejoin="miter" >TO/FROM</text>
<rect x="231.55" y="1798.50" width="36.50" height="3.50" fill="#333333" />
<rect x="369.55" y="1798.50" width="36.50" height="3.50" fill="#333333" />
<rect x="231.55" y="3355.80" width="36.50" height="3.50" fill="#0856a1" />
<rect x="369.55" y="3355.80" width="36.50" height="3.50" fill="#0856a1" />
<g transform="translate(640,910) scale(0.265887)" ><rect x="310" y="420" width="230" height="190" rx="22" fill="#333333"/><rect x="340" y="452" width="165" height="126" rx="18" fill="#f6f6f6"/><rect x="405" y="600" width="35" height="45" fill="#333333"/><rect x="360" y="628" width="60" height="35" rx="10" fill="#333333"/><rect x="265" y="652" width="280" height="43" rx="10" fill="#333333"/><rect x="305" y="660" width="240" height="243" fill="#333333"/><rect x="450" y="605" width="120" height="60" rx="28" fill="#333333" stroke="#f6f6f6" stroke-width="14"/><path d="M548,740 L548,600 C548,545 575,520 640,518 L735,522 L740,740 Z" fill="#333333" stroke="#f6f6f6" stroke-width="14"/><rect x="548" y="600" width="40" height="50" fill="#333333"/><circle cx="655" cy="440" r="64" fill="#333333"/><rect x="603" y="548" width="194" height="242" rx="32" fill="#333333" stroke="#f6f6f6" stroke-width="14"/><rect x="538" y="738" width="259" height="54" rx="26" fill="#333333" stroke="#f6f6f6" stroke-width="14"/><rect x="603" y="560" width="190" height="225" rx="30" fill="#333333"/><rect x="640" y="788" width="40" height="30" fill="#333333"/><path d="M597,885 L597,830 Q597,815 612,815 L705,815 Q720,815 720,830 L720,885 Q720,900 707,900 Q694,900 694,885 L694,842 L624,842 L624,885 Q624,900 611,900 Q597,900 597,885 Z" fill="#333333"/></g>
<g transform="translate(1100,910) scale(0.265887)" ><path d="M204,583 C204,533 230,515 270,515 C310,515 336,533 336,583 C336,635 300,675 270,675 C240,675 204,635 204,583 Z" fill="#0856a1"/><path d="M148,805 C150,728 160,708 185,696 L234,676 L270,696 L306,676 L355,696 C380,708 390,728 392,805 Z" fill="#0856a1"/><path d="M474,583 C474,533 500,515 540,515 C580,515 606,533 606,583 C606,635 570,675 540,675 C510,675 474,635 474,583 Z" fill="#0856a1"/><path d="M418,805 C420,728 430,708 455,696 L504,676 L540,696 L576,676 L625,696 C650,708 660,728 662,805 Z" fill="#0856a1"/><path d="M744,583 C744,533 770,515 810,515 C850,515 876,533 876,583 C876,635 840,675 810,675 C780,675 744,635 744,583 Z" fill="#0856a1"/><path d="M688,805 C690,728 700,708 725,696 L774,676 L810,696 L846,676 L895,696 C920,708 930,728 932,805 Z" fill="#0856a1"/><path d="M339,683 C339,633 365,615 405,615 C445,615 471,633 471,683 C471,735 435,775 405,775 C375,775 339,735 339,683 Z" fill="#0856a1" stroke="#f6f6f6" stroke-width="28" stroke-linejoin="round"/><path d="M283,905 C285,828 295,808 320,796 L369,776 L405,796 L441,776 L490,796 C515,808 525,828 527,905 Z" fill="#0856a1" stroke="#f6f6f6" stroke-width="28" stroke-linejoin="round"/><path d="M339,683 C339,633 365,615 405,615 C445,615 471,633 471,683 C471,735 435,775 405,775 C375,775 339,735 339,683 Z" fill="#0856a1"/><path d="M283,905 C285,828 295,808 320,796 L369,776 L405,796 L441,776 L490,796 C515,808 525,828 527,905 Z" fill="#0856a1"/><path d="M609,683 C609,633 635,615 675,615 C715,615 741,633 741,683 C741,735 705,775 675,775 C645,775 609,735 609,683 Z" fill="#0856a1" stroke="#f6f6f6" stroke-width="28" stroke-linejoin="round"/><path d="M553,905 C555,828 565,808 590,796 L639,776 L675,796 L711,776 L760,796 C785,808 795,828 797,905 Z" fill="#0856a1" stroke="#f6f6f6" stroke-width="28" stroke-linejoin="round"/><path d="M609,683 C609,633 635,615 675,615 C715,615 741,633 741,683 C741,735 705,775 675,775 C645,775 609,735 609,683 Z" fill="#0856a1"/><path d="M553,905 C555,828 565,808 590,796 L639,776 L675,796 L711,776 L760,796 C785,808 795,828 797,905 Z" fill="#0856a1"/><path d="M240,678 L270,697 L300,678" fill="none" stroke="#f6f6f6" stroke-width="7"/><path d="M510,678 L540,697 L570,678" fill="none" stroke="#f6f6f6" stroke-width="7"/><path d="M780,678 L810,697 L840,678" fill="none" stroke="#f6f6f6" stroke-width="7"/><path d="M375,778 L405,797 L435,778" fill="none" stroke="#f6f6f6" stroke-width="7"/><path d="M645,778 L675,797 L705,778" fill="none" stroke="#f6f6f6" stroke-width="7"/></g>
<g transform="translate(640,1440) scale(0.265887)" ><path d="M480,475 L516,378 Q530,352 545,378 L582,475 Z" fill="#0856a1"/><polygon points="460,531 600,531 630,627 432,627" fill="#0856a1"/><polygon points="410,683 648,683 677,778 385,778" fill="#0856a1"/><polygon points="372,812 690,812 738,850 738,888 325,888 325,850" fill="#0856a1"/></g>
<g transform="translate(1100,1440) scale(0.265887)" ><polygon points="122,714 950,712 950,750 124,755" fill="#231f20"/><polygon points="533,765 627,888 438,888" fill="#231f20"/><polygon points="150,540 237,458 325,540 325,700 150,700" fill="#1f88cf"/><polygon points="133,535 237,437 342,535 328,548 237,462 147,548" fill="#333333"/><rect x="285" y="462" width="18" height="45" fill="#333333"/><rect x="168" y="598" width="142" height="16" fill="#333333"/><rect x="175" y="563" width="24" height="38" fill="#ffffff"/><rect x="212" y="563" width="24" height="38" fill="#ffffff"/><rect x="250" y="563" width="24" height="38" fill="#ffffff"/><rect x="285" y="563" width="24" height="38" fill="#ffffff"/><rect x="183" y="632" width="30" height="68" fill="#333333"/><rect x="233" y="632" width="67" height="46" fill="#ffffff"/><circle cx="237" cy="520" r="21" fill="#e8f4f8"/><path d="M237,499 V541 M216,520 H258" stroke="#1f88cf" stroke-width="6"/><circle cx="845" cy="588" r="117" fill="#1f88cf"/><text x="845" y="668" font-family="Liberation Sans" font-weight="bold" font-size="230" fill="#ffffff" stroke="#ffffff" stroke-width="7" text-anchor="middle">$</text></g>
<g transform="translate(0,1780) scale(0.455789)" ><rect x="512" y="688" width="19.5" height="90" rx="9.75" fill="#0856a1"/><rect x="536.5" y="688" width="19.5" height="90" rx="9.75" fill="#0856a1"/><rect x="561" y="688" width="19.5" height="90" rx="9.75" fill="#0856a1"/><rect x="586" y="688" width="19.5" height="90" rx="9.75" fill="#0856a1"/><path d="M512,745 L605.5,745 L605.5,755 Q605.5,792 576,801 L543,801 Q512,792 512,755 Z" fill="#0856a1"/><path d="M547,795 L577,795 L579,935 Q579,953 562,953 Q545,953 545,935 Z" fill="#0856a1"/><circle cx="714" cy="820" r="110" fill="#0856a1"/><circle cx="714" cy="820" r="90" fill="none" stroke="#f6f6f6" stroke-width="5"/><path d="M868,683 Q885,683 885,700 L885,940 Q885,950 870,950 Q855,950 855,940 L858,832 Q830,800 830,750 Q832,705 862,686 Z" fill="#0856a1"/></g>
<g transform="translate(700,2050) scale(0.151976)" ><path d="M421,150 A102,108 0 0 1 625,150" fill="none" stroke="#333333" stroke-width="13"/><path d="M628,222 C640,290 660,300 760,305 C852,312 850,405 802,478 L778,545" fill="none" stroke="#333333" stroke-width="5"/><line x1="425" y1="335" x2="228" y2="500" stroke="#333333" stroke-width="92" stroke-linecap="round"/><line x1="612" y1="335" x2="815" y2="502" stroke="#333333" stroke-width="92" stroke-linecap="round"/><path d="M415,335 Q415,292 462,292 L585,292 Q632,292 632,335 L632,560 L415,560 Z" fill="#333333"/><line x1="240" y1="428" x2="300" y2="494" stroke="#f6f6f6" stroke-width="11"/><line x1="802" y1="430" x2="744" y2="497" stroke="#f6f6f6" stroke-width="11"/><ellipse cx="522" cy="180" rx="73" ry="84" fill="#333333"/><rect x="402" y="128" width="52" height="98" rx="18" fill="#333333"/><rect x="589" y="128" width="52" height="98" rx="18" fill="#333333"/><rect x="510" y="262" width="22" height="30" fill="#333333"/><rect x="510" y="305" width="22" height="21" fill="#f6f6f6"/><rect x="510" y="345" width="22" height="21" fill="#f6f6f6"/><rect x="510" y="385" width="22" height="21" fill="#f6f6f6"/><rect x="510" y="425" width="22" height="21" fill="#f6f6f6"/><rect x="510" y="465" width="22" height="21" fill="#f6f6f6"/><rect x="510" y="508" width="22" height="37" fill="#f6f6f6"/><rect x="118" y="530" width="182" height="26" rx="5" fill="#333333"/><rect x="28" y="552" width="1012" height="533" fill="#333333"/><rect x="300" y="835" width="68" height="43" fill="#f6f6f6"/><rect x="300" y="893" width="68" height="42" fill="#f6f6f6"/><rect x="300" y="953" width="68" height="112" fill="#f6f6f6"/><rect x="400" y="770" width="68" height="42" fill="#f6f6f6"/><rect x="400" y="828" width="68" height="42" fill="#f6f6f6"/><rect x="400" y="885" width="68" height="43" fill="#f6f6f6"/><rect x="400" y="945" width="68" height="115" fill="#f6f6f6"/><rect x="505" y="655" width="68" height="43" fill="#f6f6f6"/><rect x="505" y="715" width="68" height="43" fill="#f6f6f6"/><rect x="505" y="772" width="68" height="43" fill="#f6f6f6"/><rect x="505" y="832" width="68" height="228" fill="#f6f6f6"/><rect x="605" y="745" width="68" height="43" fill="#f6f6f6"/><rect x="605" y="805" width="68" height="40" fill="#f6f6f6"/><rect x="605" y="862" width="68" height="41" fill="#f6f6f6"/><rect x="605" y="920" width="68" height="140" fill="#f6f6f6"/><rect x="705" y="770" width="68" height="42" fill="#f6f6f6"/><rect x="705" y="828" width="68" height="42" fill="#f6f6f6"/><rect x="705" y="885" width="68" height="43" fill="#f6f6f6"/><rect x="705" y="945" width="68" height="115" fill="#f6f6f6"/><circle cx="868" cy="690" r="88" fill="#f6f6f6"/><circle cx="868" cy="690" r="55" fill="none" stroke="#333333" stroke-width="4"/><circle cx="868" cy="690" r="24" fill="none" stroke="#333333" stroke-width="9"/><polygon points="860,604 884,604 872,650" fill="#333333"/><path d="M912,668 Q930,650 952,662 L1000,698 Q1028,728 1022,760 Q1012,778 985,772 L948,760 Q915,745 915,720 Z" fill="#f6f6f6" stroke="#333333" stroke-width="4"/><path d="M930,690 L975,725 M940,715 L985,745" stroke="#333333" stroke-width="4"/><path d="M780,600 Q800,580 825,578 M790,615 Q810,595 832,593" fill="none" stroke="#f6f6f6" stroke-width="4"/><path d="M860,800 Q885,812 915,795 M850,815 Q880,828 912,810" fill="none" stroke="#f6f6f6" stroke-width="4"/></g>
<g transform="translate(1150,2050) scale(0.189934)" ><polygon points="513.39,208.50 449.94,271.19 424.58,216.81" fill="#0856a1" /><polygon points="440.15,116.42 412.07,201.08 364.79,164.14" fill="#0856a1" /><polygon points="324.42,66.10 340.91,153.76 281.65,144.38" fill="#0856a1" /><polygon points="190.60,81.35 249.88,147.99 194.25,170.47" fill="#0856a1" /><polygon points="86.42,159.85 171.08,187.93 134.14,235.21" fill="#0856a1" /><polygon points="34.88,284.29 121.91,264.75 114.60,324.30" fill="#0856a1" /><polygon points="53.03,413.46 118.63,353.03 142.08,408.26" fill="#0856a1" /><circle cx="285" cy="315" r="160" fill="#f6f6f6"/><circle cx="285" cy="315" r="135" fill="#0856a1"/><g fill="#f6f6f6" stroke="#f6f6f6" stroke-width="56"><circle cx="635" cy="362" r="182"/><circle cx="828" cy="520" r="142"/><circle cx="392" cy="442" r="112"/><circle cx="266" cy="550" r="113"/><rect x="266" y="480" width="565" height="183"/></g><g fill="#0856a1"><circle cx="635" cy="362" r="182"/><circle cx="828" cy="520" r="142"/><circle cx="392" cy="442" r="112"/><circle cx="266" cy="550" r="113"/><rect x="266" y="480" width="565" height="183"/></g><path d="M380,670 C388,695 414,724.6 414,745 A34,34 0 0 1 346,745 C346,724.6 372,695 380,670 Z" fill="#0856a1"/><path d="M507,695 C515,720 557,785.0 557,815 A50,50 0 0 1 457,815 C457,785.0 499,720 507,695 Z" fill="#0856a1"/><path d="M660,706 C668,731 706,780.4 706,808 A46,46 0 0 1 614,808 C614,780.4 652,731 660,706 Z" fill="#0856a1"/></g>
<g transform="translate(186,2490) scale(0.246914)" ><path d="M487,513 A50,50 0 0 1 587,513 Z" fill="#333333"/><rect x="527" y="405" width="20" height="50" fill="#333333"/><line x1="450" y1="445" x2="485" y2="482" stroke="#333333" stroke-width="20"/><line x1="625" y1="445" x2="590" y2="482" stroke="#333333" stroke-width="20"/><path d="M275,680 Q285,570 345,533 Q365,522 400,522 L680,522 Q712,522 735,538 Q790,575 800,680 Z" fill="#333333"/><path d="M310,664 Q322,590 370,560 Q380,556 400,556 L690,556 Q712,556 725,566 Q760,595 765,664 Z" fill="#f6f6f6"/><path d="M612,664 A68,68 0 0 1 748,664 L728,664 A48,48 0 0 0 632,664 Z" fill="#333333"/><path d="M300,662 L775,662 Q865,685 865,795 Q865,880 828,902 L245,902 Q208,880 208,795 Q208,685 300,662 Z" fill="#333333"/><rect x="248" y="880" width="104" height="102" fill="#333333"/><rect x="720" y="880" width="105" height="102" fill="#333333"/><circle cx="322" cy="797" r="43" fill="#f6f6f6"/><circle cx="752" cy="797" r="43" fill="#f6f6f6"/><rect x="400" y="775" width="272" height="20" rx="10" fill="#f6f6f6"/><rect x="400" y="812" width="272" height="20" rx="10" fill="#f6f6f6"/></g>
<g transform="translate(680,2585) scale(0.189934)" ><rect x="28" y="698" width="1010" height="77" fill="#0856a1"/><polygon points="65,325 335,325 335,700 40,700 40,485" fill="#0856a1"/><polygon points="725,325 985,325 1010,485 1010,700 725,700" fill="#0856a1"/><rect x="72" y="530" width="88" height="48" fill="#f6f6f6"/><rect x="72" y="610" width="88" height="48" fill="#f6f6f6"/><rect x="200" y="530" width="88" height="48" fill="#f6f6f6"/><rect x="200" y="610" width="88" height="48" fill="#f6f6f6"/><rect x="752" y="525" width="88" height="47" fill="#f6f6f6"/><rect x="752" y="605" width="88" height="47" fill="#f6f6f6"/><rect x="880" y="525" width="88" height="47" fill="#f6f6f6"/><rect x="880" y="605" width="88" height="47" fill="#f6f6f6"/><polygon points="262,392 520,198 805,392 805,490 520,290 262,490" fill="#0856a1" stroke="#f6f6f6" stroke-width="14" stroke-linejoin="miter"/><polygon points="330,425 520,282 735,425 735,700 318,700 318,425" fill="#0856a1"/><polyline points="300,460 520,262 770,460" fill="none" stroke="#f6f6f6" stroke-width="14"/><rect x="318" y="420" width="418" height="28" fill="#0856a1"/><circle cx="522" cy="375" r="33" fill="#f6f6f6"/><rect x="318" y="452" width="13" height="246" fill="#f6f6f6"/><rect x="722" y="452" width="13" height="246" fill="#f6f6f6"/><path d="M376,698 V448 H665 V698 H650 V468 H392 V698 Z" fill="#f6f6f6"/><rect x="515" y="45" width="12" height="160" fill="#0856a1"/><path d="M527,45 Q560,55 590,45 Q620,35 648,40 L648,110 Q620,100 590,112 Q560,125 527,122 Z" fill="#0856a1"/></g>
<g transform="translate(1110,2490) scale(0.246914)" ><circle cx="387" cy="403" r="55" fill="#333333"/><polygon points="220,472 380,472 352,628 254,628" fill="#333333"/><clipPath id="netclip"><polygon points="232,482 368,482 344,618 262,618"/></clipPath><path d="M40,480 L130,625 M130,480 L40,625 M70,480 L160,625 M160,480 L70,625 M100,480 L190,625 M190,480 L100,625 M130,480 L220,625 M220,480 L130,625 M160,480 L250,625 M250,480 L160,625 M190,480 L280,625 M280,480 L190,625 M220,480 L310,625 M310,480 L220,625 M250,480 L340,625 M340,480 L250,625 M280,480 L370,625 M370,480 L280,625 M310,480 L400,625 M400,480 L310,625 M340,480 L430,625 M430,480 L340,625 M370,480 L460,625 M460,480 L370,625 M400,480 L490,625 M490,480 L400,625 M430,480 L520,625 M520,480 L430,625 " stroke="#f6f6f6" stroke-width="7" clip-path="url(#netclip)"/><circle cx="575" cy="483" r="65" fill="#333333"/><path d="M443,462 Q455,560 535,582" fill="none" stroke="#333333" stroke-width="52" stroke-linecap="round"/><path d="M535,582 L640,582 Q700,595 730,680" fill="none" stroke="#333333" stroke-width="50" stroke-linecap="round" stroke-linejoin="round"/><path d="M575,590 L602,760" fill="none" stroke="#333333" stroke-width="80" stroke-linecap="round"/><path d="M598,760 L590,855 L678,950" fill="none" stroke="#333333" stroke-width="58" stroke-linecap="round" stroke-linejoin="round"/><path d="M615,750 L690,800 L838,842" fill="none" stroke="#333333" stroke-width="58" stroke-linecap="round" stroke-linejoin="round"/></g>
<g transform="translate(675,3120) scale(0.199442)" ><path d="M1020,140 C1020,100 990,84 960,84 L880,74 C820,74 700,110 605,145 L235,55 C180,45 140,80 162,112 L360,255 L226,326 L102,276 C70,262 35,282 48,306 L100,410 C68,428 62,470 92,487 C112,500 140,498 172,493 C400,452 750,362 900,282 C990,232 1020,182 1020,140 Z" fill="#333333"/><path d="M612,430 Q604,417 620,411 L790,352 Q811,347 814,366 L830,515 Q836,570 772,586 Q752,591 742,576 Z" fill="#333333"/><polygon points="808,122 905,74 964,86 808,154" fill="#f6f6f6"/></g>
<rect x="48.00" y="806.00" width="40.00" height="466.50" fill="#0856a1" />
<rect x="1412.00" y="1310.50" width="40.00" height="490.50" fill="#0856a1" />
<rect x="48.00" y="1839.00" width="40.00" height="488.50" fill="#0856a1" />
<rect x="1396.50" y="2365.50" width="40.00" height="474.50" fill="#0856a1" />
<rect x="48.00" y="2878.00" width="40.00" height="480.30" fill="#0856a1" />
<rect x="87.00" y="1271.50" width="1326.00" height="40.00" fill="#0856a1" />
<rect x="87.00" y="1800.00" width="1326.00" height="40.00" fill="#0856a1" />
<rect x="87.00" y="2326.50" width="1310.50" height="40.00" fill="#0856a1" />
<rect x="87.00" y="2839.00" width="1310.50" height="40.00" fill="#0856a1" />
<rect x="87.00" y="3357.30" width="1413.00" height="40.00" fill="#0856a1" />
<path d="M88.0,1271.5 L48.0,1271.5 L48.0,1275.5 A36.0,36.0 0 0 0 84.0,1311.5 L88.0,1311.5 Z" fill="#0856a1"/>
<path d="M1412.0,1311.5 L1412.0,1271.5 L1416.0,1271.5 A36.0,36.0 0 0 1 1452.0,1307.5 L1452.0,1311.5 Z" fill="#0856a1"/>
<path d="M1412.0,1800.0 L1452.0,1800.0 L1452.0,1804.0 A36.0,36.0 0 0 1 1416.0,1840.0 L1412.0,1840.0 Z" fill="#0856a1"/>
<path d="M88.0,1840.0 L48.0,1840.0 L48.0,1836.0 A36.0,36.0 0 0 1 84.0,1800.0 L88.0,1800.0 Z" fill="#0856a1"/>
<path d="M88.0,2326.5 L48.0,2326.5 L48.0,2330.5 A36.0,36.0 0 0 0 84.0,2366.5 L88.0,2366.5 Z" fill="#0856a1"/>
<path d="M1396.5,2366.5 L1396.5,2326.5 L1400.5,2326.5 A36.0,36.0 0 0 1 1436.5,2362.5 L1436.5,2366.5 Z" fill="#0856a1"/>
<path d="M1396.5,2839.0 L1436.5,2839.0 L1436.5,2843.0 A36.0,36.0 0 0 1 1400.5,2879.0 L1396.5,2879.0 Z" fill="#0856a1"/>
<path d="M88.0,2879.0 L48.0,2879.0 L48.0,2875.0 A36.0,36.0 0 0 1 84.0,2839.0 L88.0,2839.0 Z" fill="#0856a1"/>
<path d="M88.0,3357.3 L48.0,3357.3 L48.0,3361.3 A36.0,36.0 0 0 0 84.0,3397.3 L88.0,3397.3 Z" fill="#0856a1"/>
<clipPath id="dclip"><rect x="0" y="806.7" width="1500" height="2900"/></clipPath>
<path d="M68.0,806.8 V1275.5 A16.0,16.0 0 0 0 84.0,1291.5 H1416.0 A16.0,16.0 0 0 1 1432.0,1307.5 V1804.0 A16.0,16.0 0 0 1 1416.0,1820.0 H84.0 A16.0,16.0 0 0 0 68.0,1836.0 V2330.5 A16.0,16.0 0 0 0 84.0,2346.5 H1400.5 A16.0,16.0 0 0 1 1416.5,2362.5 V2843.0 A16.0,16.0 0 0 1 1400.5,2859.0 H84.0 A16.0,16.0 0 0 0 68.0,2875.0 V3361.3 A16.0,16.0 0 0 0 84.0,3377.3 H1520" fill="none" stroke="#ffffff" stroke-width="5" stroke-linecap="round" stroke-dasharray="16 12" clip-path="url(#dclip)"/>
<g transform="translate(580,3410) scale(0.284900)" ><path d="M145,72 Q330,120 520,45 Q710,120 900,72 L990,160 Q950,255 962,320 Q972,380 940,405 Q720,415 520,478 Q320,415 100,405 Q68,380 78,320 Q90,255 55,160 Z" fill="#ffffff" stroke="#5b7aa6" stroke-width="3.5"/><path d="M178,256 Q248,266 270,326 Q284,372 296,394 Q268,388 252,340 Q232,284 176,262 Z" fill="#c0112f"/></g>
<text x="650.56" y="3479.10" font-family="Liberation Serif" font-weight="bold" font-style="italic" font-size="32.68" fill="#c0112f" textLength="149.36" lengthAdjust="spacingAndGlyphs" style="font-kerning:none" stroke="#c0112f" stroke-width="1.4" stroke-linejoin="miter" >REALTY</text>
<text x="609.47" y="3511.30" font-family="Liberation Serif" font-weight="bold" font-style="italic" font-size="31.77" fill="#c0112f" textLength="234.90" lengthAdjust="spacingAndGlyphs" style="font-kerning:none" stroke="#c0112f" stroke-width="1.4" stroke-linejoin="miter" >EXECUTIVES</text>
<text x="634" y="3569.5" font-family="Liberation Sans" font-size="22" fill="#2b3990" textLength="191" lengthAdjust="spacing">ELITE HOMES</text>
<rect x="0.00" y="3594.00" width="1500.00" height="74.00" fill="#0856a1" />
<text x="143.37" y="3642.40" font-family="Liberation Sans" font-weight="bold" font-style="normal" font-size="40.41" fill="#f7f8fb" textLength="139.06" lengthAdjust="spacingAndGlyphs" style="font-kerning:none" stroke="#f7f8fb" stroke-width="2.6" stroke-linejoin="miter" >Matthew</text>
<text x="293.33" y="3642.40" font-family="Liberation Sans" font-weight="bold" font-style="normal" font-size="40.41" fill="#f7f8fb" textLength="39.63" lengthAdjust="spacingAndGlyphs" style="font-kerning:none" stroke="#f7f8fb" stroke-width="2.6" stroke-linejoin="miter" >De</text>
<text x="343.73" y="3642.40" font-family="Liberation Sans" font-weight="bold" font-style="normal" font-size="40.41" fill="#f7f8fb" textLength="75.57" lengthAdjust="spacingAndGlyphs" style="font-kerning:none" stroke="#f7f8fb" stroke-width="2.6" stroke-linejoin="miter" >Fede</text>
<text x="466.63" y="3642.40" font-family="Liberation Sans" font-weight="bold" font-style="normal" font-size="40.41" fill="#f7f8fb" textLength="101.75" lengthAdjust="spacingAndGlyphs" style="font-kerning:none" stroke="#f7f8fb" stroke-width="2.6" stroke-linejoin="miter" >Realty</text>
<text x="580.35" y="3642.40" font-family="Liberation Sans" font-weight="bold" font-style="normal" font-size="40.41" fill="#f7f8fb" textLength="175.93" lengthAdjust="spacingAndGlyphs" style="font-kerning:none" stroke="#f7f8fb" stroke-width="2.6" stroke-linejoin="miter" >Executives</text>
<text x="763.71" y="3642.40" font-family="Liberation Sans" font-weight="bold" font-style="normal" font-size="40.41" fill="#f7f8fb" textLength="72.15" lengthAdjust="spacingAndGlyphs" style="font-kerning:none" stroke="#f7f8fb" stroke-width="2.6" stroke-linejoin="miter" >Elite</text>
<text x="844.33" y="3642.40" font-family="Liberation Sans" font-weight="bold" font-style="normal" font-size="40.41" fill="#f7f8fb" textLength="113.06" lengthAdjust="spacingAndGlyphs" style="font-kerning:none" stroke="#f7f8fb" stroke-width="2.6" stroke-linejoin="miter" >Homes</text>
<text x="1004.64" y="3642.40" font-family="Liberation Sans" font-weight="bold" font-style="normal" font-size="40.41" fill="#f7f8fb" textLength="61.13" lengthAdjust="spacingAndGlyphs" style="font-kerning:none" stroke="#f7f8fb" stroke-width="2.6" stroke-linejoin="miter" >862</text>
<text x="1095.63" y="3642.40" font-family="Liberation Sans" font-weight="bold" font-style="normal" font-size="40.41" fill="#f7f8fb" textLength="61.30" lengthAdjust="spacingAndGlyphs" style="font-kerning:none" stroke="#f7f8fb" stroke-width="2.6" stroke-linejoin="miter" >228</text>
<text x="1186.01" y="3642.40" font-family="Liberation Sans" font-weight="bold" font-style="normal" font-size="40.41" fill="#f7f8fb" textLength="83.69" lengthAdjust="spacingAndGlyphs" style="font-kerning:none" stroke="#f7f8fb" stroke-width="2.6" stroke-linejoin="miter" >0554</text>
<rect x="442.60" y="3613.00" width="5.00" height="35.60" fill="#f7f8fb" />
<rect x="981.00" y="3613.00" width="4.80" height="35.60" fill="#f7f8fb" />
<circle cx="1082.1" cy="3627.8" r="5" fill="#f7f8fb"/><circle cx="1171.9" cy="3627.8" r="5" fill="#f7f8fb"/></svg></body></html>
